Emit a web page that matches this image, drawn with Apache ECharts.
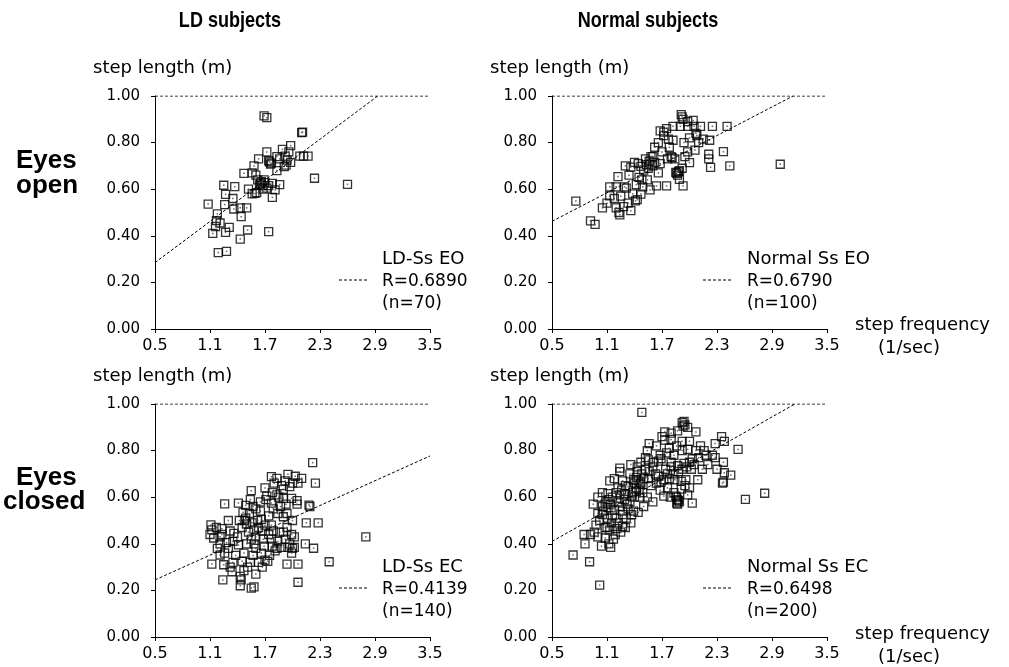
<!DOCTYPE html>
<html>
<head>
<meta charset="utf-8">
<script src="https://cdn.jsdelivr.net/npm/echarts@6/dist/echarts.min.js"></script>
<style>
  html, body { margin: 0; padding: 0; background: #fff; }
  #chart { width: 1009px; height: 667px; }
</style>
</head>
<body>
<div id="chart"></div>
<script>
// step frequency (1/sec), step length (m)
const ldEO = [
  [1.69,0.915],[1.72,0.907],[2.10,0.843],[2.11,0.845],[1.98,0.787],[1.89,0.771],[1.72,0.760],[1.83,0.740],
  [1.75,0.717],[1.77,0.712],[1.74,0.722],[1.76,0.708],[1.92,0.742],[1.94,0.725],[1.91,0.697],[1.93,0.703],
  [2.08,0.742],[2.12,0.742],[2.17,0.742],[1.63,0.730],[1.58,0.700],[1.47,0.668],[1.56,0.670],[1.62,0.640],
  [1.65,0.625],[1.67,0.615],[1.64,0.618],[1.70,0.628],[1.68,0.600],[1.72,0.605],[1.74,0.615],[1.66,0.632],
  [1.78,0.625],[1.81,0.597],[1.56,0.580],[1.59,0.582],[1.61,0.585],[1.78,0.565],[2.24,0.647],[2.60,0.621],
  [1.25,0.617],[1.37,0.611],[1.27,0.578],[1.08,0.536],[1.26,0.534],[1.36,0.515],[1.43,0.520],[1.50,0.520],
  [1.44,0.482],[1.18,0.494],[1.17,0.465],[1.21,0.455],[1.31,0.436],[1.13,0.410],[1.27,0.415],[1.51,0.425],
  [1.43,0.386],[1.74,0.418],[1.19,0.328],[1.28,0.333],[1.96,0.760],[1.86,0.730],[1.60,0.660],[1.69,0.640],
  [1.86,0.620],[1.83,0.680],[1.52,0.600],[1.35,0.560],[1.16,0.440],[1.98,0.715]
];
const normalEO = [
  [0.76,0.549],[0.92,0.464],[0.97,0.449],[1.24,0.490],[1.23,0.500],[1.28,0.525],[1.36,0.508],[1.41,0.550],
  [1.43,0.555],[1.47,0.579],[1.13,0.571],[1.13,0.610],[1.20,0.610],[1.29,0.610],[1.31,0.605],[1.22,0.654],
  [1.45,0.651],[1.54,0.640],[1.57,0.597],[1.64,0.614],[1.75,0.614],[1.30,0.700],[1.36,0.695],[1.44,0.710],
  [1.47,0.698],[1.52,0.730],[1.56,0.720],[1.58,0.740],[1.55,0.690],[1.50,0.682],[1.53,0.705],[1.57,0.708],
  [1.40,0.715],[1.76,0.730],[1.80,0.740],[1.84,0.730],[1.81,0.735],[1.95,0.740],[2.00,0.714],[1.87,0.660],
  [1.88,0.675],[1.86,0.668],[1.89,0.680],[1.85,0.672],[1.89,0.642],[1.93,0.614],[1.68,0.850],[1.72,0.845],
  [1.72,0.830],[1.77,0.815],[1.82,0.810],[1.91,0.920],[1.93,0.900],[1.98,0.890],[2.04,0.895],[1.92,0.910],
  [1.82,0.870],[1.90,0.870],[1.98,0.870],[2.05,0.870],[2.12,0.870],[2.25,0.870],[2.41,0.870],[2.07,0.840],
  [2.08,0.830],[2.15,0.815],[2.22,0.810],[2.06,0.768],[2.21,0.750],[2.21,0.730],[2.37,0.761],[2.23,0.694],
  [2.44,0.700],[2.99,0.707],[1.75,0.860],[1.62,0.780],[1.66,0.800],[1.70,0.760],[1.78,0.780],[2.00,0.820],
  [1.94,0.800],[1.60,0.740],[1.34,0.660],[1.25,0.570],[1.18,0.560],[1.42,0.620],[1.48,0.640],[1.60,0.700],
  [1.62,0.715],[1.92,0.690],[1.98,0.760],[2.10,0.800],[1.38,0.580],[1.05,0.520],[1.10,0.540],[1.20,0.520],
  [1.33,0.540],[1.49,0.610],[1.68,0.710],[1.66,0.670]
];
const ldEC = [
  [2.22,0.748],[1.77,0.688],[1.83,0.681],[1.95,0.698],[2.10,0.681],[2.06,0.660],[1.97,0.645],[1.90,0.634],
  [2.25,0.660],[1.55,0.628],[1.70,0.640],[1.78,0.620],[1.72,0.605],[1.26,0.571],[1.41,0.575],[1.49,0.565],
  [1.57,0.560],[1.46,0.535],[1.53,0.530],[1.48,0.500],[1.71,0.590],[1.77,0.575],[1.79,0.550],[1.90,0.595],
  [1.93,0.570],[1.99,0.595],[2.05,0.585],[2.05,0.570],[1.90,0.516],[2.18,0.566],[2.19,0.560],[2.15,0.490],
  [2.28,0.490],[1.11,0.481],[1.12,0.460],[1.23,0.465],[1.32,0.455],[1.36,0.445],[1.14,0.425],[1.21,0.430],
  [1.23,0.440],[1.50,0.485],[1.56,0.490],[1.62,0.500],[1.66,0.505],[1.58,0.460],[1.67,0.455],[1.77,0.480],
  [1.79,0.455],[1.86,0.450],[1.90,0.450],[1.94,0.470],[1.99,0.440],[1.21,0.400],[1.28,0.405],[1.35,0.410],
  [1.41,0.395],[1.50,0.400],[1.58,0.400],[1.60,0.380],[1.69,0.390],[1.78,0.390],[1.83,0.380],[1.88,0.385],
  [1.95,0.385],[2.00,0.380],[2.02,0.385],[1.21,0.352],[2.23,0.381],[1.12,0.313],[1.35,0.320],[1.45,0.325],
  [1.54,0.320],[1.63,0.320],[1.70,0.330],[1.73,0.325],[1.94,0.313],[2.06,0.313],[2.40,0.323],[1.34,0.280],
  [1.43,0.260],[1.47,0.285],[1.44,0.245],[1.24,0.245],[1.43,0.220],[1.55,0.210],[1.58,0.215],[2.06,0.235],
  [2.80,0.430],[1.60,0.550],[1.65,0.540],[1.74,0.520],[1.84,0.530],[1.87,0.560],[1.94,0.530],[2.00,0.500],
  [1.70,0.480],[1.63,0.470],[1.52,0.450],[1.45,0.470],[1.40,0.430],[1.30,0.380],[1.26,0.360],[1.38,0.350],
  [1.47,0.360],[1.57,0.350],[1.66,0.360],[1.75,0.350],[1.84,0.410],[1.92,0.420],[1.97,0.400],[2.02,0.430],
  [1.60,0.430],[1.68,0.420],[1.74,0.440],[1.55,0.420],[1.49,0.510],[1.42,0.500],[1.83,0.610],[1.88,0.650],
  [1.92,0.670],[2.00,0.660],[2.03,0.690],[1.80,0.660],[1.85,0.600],[1.65,0.580],[1.54,0.590],[1.30,0.500],
  [1.17,0.470],[1.10,0.440],[1.18,0.380],[1.25,0.310],[1.32,0.300],[1.51,0.300],[1.60,0.270],[1.67,0.300],
  [1.99,0.360],[2.14,0.400],[1.81,0.370],[1.77,0.420]
];
const normalEC = [
  [1.48,0.964],[1.92,0.920],[1.95,0.910],[1.94,0.925],[1.98,0.900],[1.93,0.905],[1.73,0.880],[1.80,0.875],
  [1.87,0.885],[2.07,0.880],[1.73,0.845],[1.80,0.848],[1.92,0.840],[1.56,0.830],[1.54,0.800],[1.78,0.810],
  [1.92,0.800],[1.98,0.805],[2.12,0.820],[2.28,0.830],[2.35,0.860],[2.38,0.840],[2.53,0.805],[2.07,0.800],
  [2.16,0.800],[2.18,0.780],[2.28,0.770],[2.37,0.750],[1.55,0.760],[1.61,0.750],[1.66,0.755],[1.69,0.765],
  [1.36,0.740],[1.43,0.730],[1.24,0.725],[1.24,0.710],[1.80,0.750],[1.87,0.735],[1.94,0.745],[2.00,0.750],
  [2.03,0.765],[2.30,0.720],[2.38,0.705],[2.45,0.695],[2.36,0.660],[2.37,0.665],[2.61,0.591],[2.82,0.617],
  [1.13,0.670],[1.27,0.670],[1.33,0.645],[1.39,0.675],[1.42,0.685],[1.46,0.655],[1.66,0.690],[1.69,0.665],
  [1.72,0.675],[1.78,0.680],[1.84,0.675],[1.91,0.668],[1.96,0.675],[2.09,0.675],[1.68,0.630],[1.72,0.605],
  [1.83,0.620],[1.85,0.605],[1.91,0.635],[1.98,0.610],[2.03,0.575],[1.86,0.575],[1.87,0.570],[1.60,0.580],
  [1.05,0.620],[1.11,0.615],[1.20,0.620],[1.24,0.610],[1.30,0.615],[1.37,0.605],[1.42,0.625],[1.05,0.560],
  [1.11,0.555],[1.18,0.545],[1.24,0.560],[1.27,0.540],[1.33,0.550],[1.39,0.540],[1.05,0.525],[1.10,0.510],
  [1.16,0.520],[1.20,0.510],[1.27,0.525],[1.31,0.510],[1.37,0.525],[1.44,0.535],[1.08,0.470],[1.13,0.460],
  [1.20,0.465],[1.27,0.475],[0.85,0.440],[0.86,0.400],[0.92,0.440],[1.00,0.430],[1.08,0.425],[1.12,0.400],
  [1.14,0.385],[1.19,0.440],[0.73,0.352],[0.91,0.323],[1.02,0.223],[1.40,0.660],[1.42,0.640],[1.44,0.670],
  [1.45,0.630],[1.47,0.660],[1.48,0.700],[1.43,0.710],[1.50,0.680],[1.38,0.620],[1.40,0.600],[1.46,0.600],
  [1.49,0.620],[1.35,0.580],[1.10,0.580],[1.08,0.570],[1.12,0.590],[1.14,0.570],[1.16,0.600],[1.06,0.540],
  [1.00,0.530],[1.02,0.500],[0.98,0.480],[1.15,0.490],[1.22,0.490],[1.25,0.450],[1.17,0.420],[1.10,0.470],
  [1.29,0.590],[1.32,0.570],[1.26,0.630],[1.30,0.650],[1.52,0.720],[1.56,0.710],[1.60,0.730],[1.63,0.700],
  [1.64,0.660],[1.58,0.650],[1.55,0.680],[1.74,0.720],[1.76,0.700],[1.80,0.730],[1.82,0.700],[1.88,0.710],
  [1.92,0.720],[1.97,0.730],[2.05,0.740],[2.10,0.770],[2.02,0.720],[1.87,0.590],[1.88,0.585],[1.86,0.600],
  [1.89,0.580],[1.76,0.640],[1.79,0.600],[1.95,0.650],[2.00,0.640],[2.14,0.720],[2.20,0.740],[1.68,0.780],
  [1.75,0.790],[1.83,0.780],[1.86,0.820],[1.64,0.820],[1.70,0.860],[2.25,0.780],[2.00,0.840],[1.52,0.770],
  [1.47,0.750],[1.35,0.700],[1.18,0.680],[1.22,0.640],[1.00,0.600],[0.95,0.570],[0.96,0.450],[1.04,0.390],
  [1.22,0.580],[1.30,0.470],[1.36,0.490],[1.50,0.560],[1.54,0.600]
];

// regression lines (start, point where they reach 1.00 or the axis end)
const ldEOFit = [[0.5, 0.285], [2.93, 1.0]];
const normalEOFit = [[0.5, 0.462], [3.13, 1.0]];
const ldECFit = [[0.5, 0.245], [3.5, 0.777]];
const normalECFit = [[0.5, 0.41], [3.15, 1.0]];
const ceiling = [[0.5, 1.0], [3.5, 1.0]];

const xTicks = [0.5, 1.1, 1.7, 2.3, 2.9, 3.5];
const panelNames = ['LD-Ss EO', 'Normal Ss EO', 'LD-Ss EC', 'Normal Ss EC'];
const rValues = ['R=0.6890', 'R=0.6790', 'R=0.4139', 'R=0.6498'];
const nValues = ['(n=70)', '(n=100)', '(n=140)', '(n=200)'];

const panels = [ldEO, normalEO, ldEC, normalEC];
const fits = [ldEOFit, normalEOFit, ldECFit, normalECFit];
const grids = [
  { left: 155, top: 96, width: 275, height: 233 },
  { left: 552, top: 96, width: 275, height: 233 },
  { left: 155, top: 404, width: 275, height: 233 },
  { left: 552, top: 404, width: 275, height: 233 }
];

const font = '"DejaVu Sans", sans-serif';
const chart = echarts.init(document.getElementById('chart'));

const xAxis = grids.map((g, i) => ({
  gridIndex: i,
  type: 'value',
  min: 0.5,
  max: 3.5,
  splitLine: { show: false },
  axisLine: { lineStyle: { color: '#000', width: 1 } },
  axisTick: { length: 4, lineStyle: { color: '#000' }, customValues: xTicks },
  axisLabel: {
    customValues: xTicks,
    formatter: v => v.toFixed(1),
    color: '#000', fontSize: 16, fontFamily: font, margin: 9
  }
}));
const yAxis = grids.map((g, i) => ({
  gridIndex: i,
  type: 'value',
  min: 0,
  max: 1,
  interval: 0.2,
  splitLine: { show: false },
  axisLine: { lineStyle: { color: '#000', width: 1 } },
  axisTick: { length: 4, lineStyle: { color: '#000' } },
  axisLabel: {
    formatter: v => v.toFixed(2),
    color: '#000', fontSize: 15, fontFamily: font, margin: 15,
    padding: [0, 0, 9, 0]
  }
}));

const series = [];
panels.forEach((data, i) => {
  series.push({
    type: 'scatter', xAxisIndex: i, yAxisIndex: i, data: data,
    symbol: 'rect', symbolSize: 8,
    itemStyle: { color: 'rgba(255,255,255,0)', borderColor: '#000', borderWidth: 1.3 },
    silent: true
  });
  series.push({
    type: 'scatter', xAxisIndex: i, yAxisIndex: i, data: data,
    symbol: 'rect', symbolSize: 1.5,
    itemStyle: { color: '#444' },
    silent: true
  });
  series.push({
    type: 'line', xAxisIndex: i, yAxisIndex: i, data: fits[i],
    symbol: 'none', lineStyle: { color: '#000', width: 1, type: [3, 2] }, silent: true
  });
  series.push({
    type: 'line', xAxisIndex: i, yAxisIndex: i, data: ceiling,
    symbol: 'none', lineStyle: { color: '#000', width: 1, type: [3, 2] }, silent: true
  });
});

function txt(x, y, text, size) {
  return {
    type: 'text', x: x, y: y,
    style: {
      text: text, fill: '#000',
      font: size + 'px ' + font,
      align: 'left', verticalAlign: 'middle'
    }
  };
}

const graphic = [];
// column and row headings
[['LD subjects', 230], ['Normal subjects', 648]].forEach(([t, cx]) => {
  graphic.push({
    type: 'text', x: cx, y: 21, scaleX: 0.82,
    style: { text: t, fill: '#000', font: 'bold 22px "Liberation Sans", Arial, sans-serif', align: 'center', verticalAlign: 'middle' }
  });
});
[['Eyes', 16, 161], ['open', 16, 186], ['Eyes', 16, 478], ['closed', 3, 502]].forEach(([t, x, y]) => {
  graphic.push({
    type: 'text', x: x, y: y,
    style: { text: t, fill: '#000', font: 'bold 26px "Liberation Sans", Arial, sans-serif', align: 'left', verticalAlign: 'middle' }
  });
});

// per-panel annotations
const legendPos = [
  { tx: 382, ty: 259, dx: 339 },
  { tx: 747, ty: 259, dx: 703 },
  { tx: 382, ty: 567, dx: 339 },
  { tx: 747, ty: 567, dx: 703 }
];
grids.forEach((g, i) => {
  const lp = legendPos[i];
  graphic.push(txt(g.left - 62, g.top - 28, 'step length (m)', 18));
  graphic.push(txt(lp.tx, lp.ty, panelNames[i], 18));
  graphic.push(txt(lp.tx, lp.ty + 23, rValues[i], 17));
  graphic.push(txt(lp.tx, lp.ty + 45, nValues[i], 17));
  graphic.push({
    type: 'line',
    shape: { x1: lp.dx, y1: lp.ty + 21, x2: lp.dx + 28, y2: lp.ty + 21 },
    style: { stroke: '#000', lineWidth: 1, lineDash: [3, 2] }
  });
});
[[325, 348], [634, 657]].forEach(([y1, y2]) => {
  graphic.push(txt(855, y1, 'step frequency', 18));
  graphic.push(txt(878, y2, '(1/sec)', 18));
});

chart.setOption({
  backgroundColor: '#fff',
  animation: false,
  grid: grids,
  xAxis: xAxis,
  yAxis: yAxis,
  series: series,
  graphic: graphic
});
</script>
</body>
</html>
